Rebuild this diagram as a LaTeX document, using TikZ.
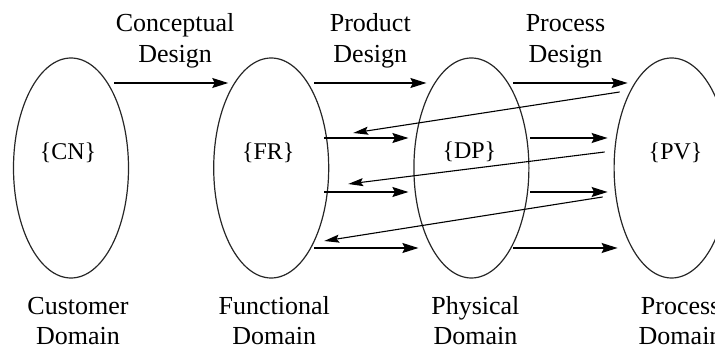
\documentclass[tikz,border=0pt]{standalone}
\usepackage{fontspec}
\setmainfont{Liberation Serif}
\usetikzlibrary{shapes.geometric,arrows.meta,positioning,calc}

\begin{document}
\begin{tikzpicture}
[x=1pt,y=1pt,>={Stealth[length=16pt,width=10pt,inset=2.5pt]},node distance=84pt,
 domainbox/.style={draw=black!85,line width=1.2pt,ellipse,minimum width=115pt,minimum height=220pt,inner sep=0pt},
 flow/.style={->,line width=1.3pt},
 feedback/.style={-{Stealth[length=15pt,width=8pt,inset=2.5pt]},line width=1.1pt},
 stage/.style={font=\fontsize{26}{31}\selectfont,align=center,inner sep=0pt},
 domname/.style={font=\fontsize{26}{30}\selectfont,align=center,anchor=base,inner sep=0pt},
 innerlabel/.style={font=\fontsize{24}{28}\selectfont,inner sep=0pt}]

  \useasboundingbox (0,0) rectangle (715,348);

  % the four domains
  \node (cn) [domainbox] at (71,180) {};
  \node (fr) [domainbox, right=of cn] {};
  \node (dp) [domainbox, right=of fr] {};
  \node (pv) [domainbox, right=of dp] {};

  \node (cnlabel) [innerlabel] at ([xshift=-3pt,yshift=15pt]cn.center) {\{CN\}};
  \node (frlabel) [innerlabel] at ([xshift=-3pt,yshift=15pt]fr.center) {\{FR\}};
  \node (dplabel) [innerlabel] at ([xshift=-2pt,yshift=16pt]dp.center) {\{DP\}};
  \node (pvlabel) [innerlabel] at ([xshift=4pt,yshift=15pt]pv.center) {\{PV\}};

  \node (cnname) [domname] at ([xshift=7pt,yshift=-66pt]cn.south) {Customer\\Domain};
  \node (frname) [domname] at ([xshift=3pt,yshift=-66pt]fr.south) {Functional\\Domain};
  \node (dpname) [domname] at ([xshift=4pt,yshift=-66pt]dp.south) {Physical\\Domain};
  \node (pvname) [domname] at ([xshift=9pt,yshift=-66pt]pv.south) {Process\\Domain};

  % design steps
  \draw[flow] ($(cn.center)+(43,85)$) -- node[stage,above=14pt,xshift=4pt] {Conceptual\\Design} ($(fr.center)+(-43,85)$);
  \draw[flow] ($(fr.center)+(43,85)$) -- node[stage,above=14pt] {Product\\Design} ($(dp.center)+(-45,85)$);
  \draw[flow] ($(dp.center)+(42,85)$) -- node[stage,above=14pt,xshift=-5pt] {Process\\Design} ($(pv.center)+(-44,85)$);

  % zigzagging
  \draw[flow] ($(fr.center)+(53,30)$) -- ($(dp.center)+(-63,30)$);
  \draw[flow] ($(dp.center)+(59,30)$) -- ($(pv.center)+(-64,30)$);
  \draw[flow] ($(fr.center)+(53,-24)$) -- ($(dp.center)+(-63,-24)$);
  \draw[flow] ($(dp.center)+(59,-24)$) -- ($(pv.center)+(-64,-24)$);
  \draw[flow] ($(fr.center)+(43,-80)$) -- ($(dp.center)+(-53,-80)$);
  \draw[flow] ($(dp.center)+(42,-80)$) -- ($(pv.center)+(-54,-80)$);

  \draw[feedback] ($(pv.center)+(-52,76)$) -- ($(fr.center)+(82,35)$);
  \draw[feedback] ($(pv.center)+(-67,16)$) -- ($(fr.center)+(77,-16)$);
  \draw[feedback] ($(pv.center)+(-69,-29)$) -- ($(fr.center)+(53,-73)$);

\end{tikzpicture}
\end{document}
